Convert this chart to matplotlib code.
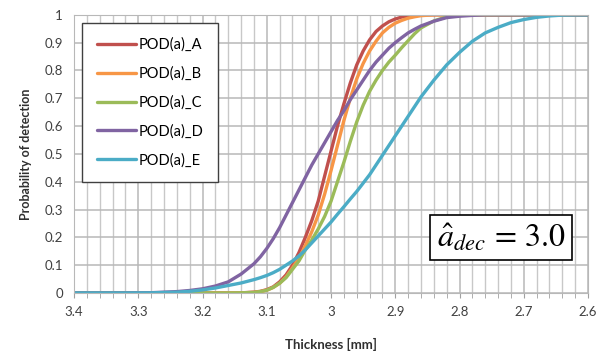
import matplotlib
matplotlib.use("Agg")
import matplotlib.pyplot as plt
from matplotlib.ticker import MultipleLocator

# thickness values (finer steps where the curves are steep)
thickness = [3.40, 3.36, 3.32, 3.28, 3.24, 3.22, 3.20, 3.18, 3.16, 3.14,
             3.12, 3.11, 3.10, 3.09, 3.08, 3.07, 3.06, 3.05, 3.04, 3.03,
             3.02, 3.01, 3.00, 2.99, 2.98, 2.97, 2.96, 2.95, 2.94, 2.93,
             2.92, 2.91, 2.90, 2.89, 2.88, 2.87, 2.86,
             2.84, 2.82, 2.80, 2.78, 2.76, 2.74, 2.72, 2.70, 2.68, 2.66, 2.64, 2.62, 2.60]

pod_a = [0, 0, 0, 0, 0, 0, 0, 0, 0, 0.0005,
         0.003, 0.006, 0.012, 0.022, 0.04, 0.065, 0.10, 0.145, 0.20, 0.26,
         0.33, 0.42, 0.51, 0.60, 0.68, 0.755, 0.82, 0.87, 0.91, 0.94,
         0.96, 0.975, 0.985, 0.992, 0.996, 0.998, 1,
         1, 1, 1, 1, 1, 1, 1, 1, 1, 1, 1, 1, 1]
pod_b = [0, 0, 0, 0, 0, 0, 0, 0, 0, 0.0005,
         0.002, 0.005, 0.01, 0.02, 0.035, 0.058, 0.09, 0.125, 0.17, 0.22,
         0.28, 0.355, 0.44, 0.53, 0.62, 0.70, 0.77, 0.825, 0.87, 0.905,
         0.935, 0.955, 0.97, 0.98, 0.988, 0.993, 0.997,
         1, 1, 1, 1, 1, 1, 1, 1, 1, 1, 1, 1, 1]
pod_c = [0, 0, 0, 0, 0, 0, 0, 0, 0, 0.0005,
         0.002, 0.005, 0.01, 0.02, 0.035, 0.055, 0.085, 0.115, 0.155, 0.19,
         0.23, 0.275, 0.33, 0.40, 0.47, 0.545, 0.615, 0.675, 0.725, 0.765,
         0.80, 0.83, 0.855, 0.882, 0.907, 0.932, 0.953,
         0.978, 0.993, 1, 1, 1, 1, 1, 1, 1, 1, 1, 1, 1]
pod_d = [0, 0, 0, 0.001, 0.005, 0.009, 0.015, 0.025, 0.04, 0.068,
         0.105, 0.13, 0.16, 0.195, 0.235, 0.28, 0.325, 0.37, 0.415, 0.46,
         0.50, 0.54, 0.58, 0.62, 0.655, 0.695, 0.73, 0.765, 0.80, 0.83,
         0.855, 0.88, 0.90, 0.918, 0.935, 0.948, 0.96,
         0.977, 0.99, 0.995, 0.998, 1, 1, 1, 1, 1, 1, 1, 1, 1]
pod_e = [0, 0, 0, 0.0005, 0.003, 0.006, 0.011, 0.018, 0.027, 0.036,
         0.048, 0.055, 0.063, 0.073, 0.085, 0.10, 0.115, 0.133, 0.155, 0.18,
         0.205, 0.23, 0.255, 0.283, 0.31, 0.338, 0.365, 0.395, 0.425, 0.46,
         0.495, 0.53, 0.565, 0.60, 0.635, 0.67, 0.705,
         0.765, 0.82, 0.865, 0.905, 0.935, 0.955, 0.972, 0.983, 0.991, 0.996, 0.999, 1, 1]

labels = ["POD(a)_A", "POD(a)_B", "POD(a)_C", "POD(a)_D", "POD(a)_E"]
colors = ["#c0504d", "#f79646", "#9bbb59", "#8064a2", "#4bacc6"]

plt.rcParams["font.family"] = ["Lato", "DejaVu Sans"]
plt.rcParams["mathtext.fontset"] = "stix"

fig = plt.figure(figsize=(5.97, 3.53), dpi=100)
ax = fig.add_axes([0.124, 0.170, 0.861, 0.788])

series = [pod_a, pod_b, pod_c, pod_d, pod_e]
for vals, lab, col in zip(series, labels, colors):
    ax.plot(thickness, vals, color=col, lw=2.4, label=lab, solid_capstyle="round")

ax.set_xlim(3.4, 2.6)
ax.set_ylim(0, 1)
ax.xaxis.set_major_locator(MultipleLocator(0.1))
ax.xaxis.set_minor_locator(MultipleLocator(0.02))
ax.yaxis.set_major_locator(MultipleLocator(0.1))
ax.xaxis.set_major_formatter(plt.FuncFormatter(lambda v, p: f"{v:g}"))
ax.yaxis.set_major_formatter(plt.FuncFormatter(lambda v, p: f"{v:g}"))

ax.grid(which="major", color="#b8b8b8", lw=1.1)
ax.grid(which="minor", axis="x", color="#c8c8c8", lw=1.0)
ax.set_axisbelow(True)
for s in ax.spines.values():
    s.set_color("#b8b8b8")
ax.tick_params(axis="x", which="both", colors="#a0a0a0", labelcolor="#404040",
               labelsize=9.5, length=3.5, pad=6, direction="out")
ax.tick_params(axis="y", length=0, labelcolor="#404040", labelsize=9.5, pad=8)

ax.set_xlabel("Thickness [mm]", fontsize=9.5, fontweight="bold", color="#303030", labelpad=14)
ax.set_ylabel("Probability of detection", fontsize=9, fontweight="bold", color="#303030", labelpad=9)

leg = ax.legend(loc="upper left", bbox_to_anchor=(0.016, 0.971), borderaxespad=0,
                fontsize=10.5, handlelength=2.7, handletextpad=0.15, labelspacing=1.0,
                borderpad=1.0, fancybox=False, framealpha=1)
leg.get_frame().set_edgecolor("#404040")
leg.get_frame().set_linewidth(1.0)

ax.text(0.831, 0.20, r"$\hat{a}_{dec}\,=\,3.0$", transform=ax.transAxes, fontsize=23,
        ha="center", va="center",
        bbox=dict(boxstyle="square,pad=0.2", fc="white", ec="black", lw=1.2))

fig.savefig("out.png", dpi=100)
